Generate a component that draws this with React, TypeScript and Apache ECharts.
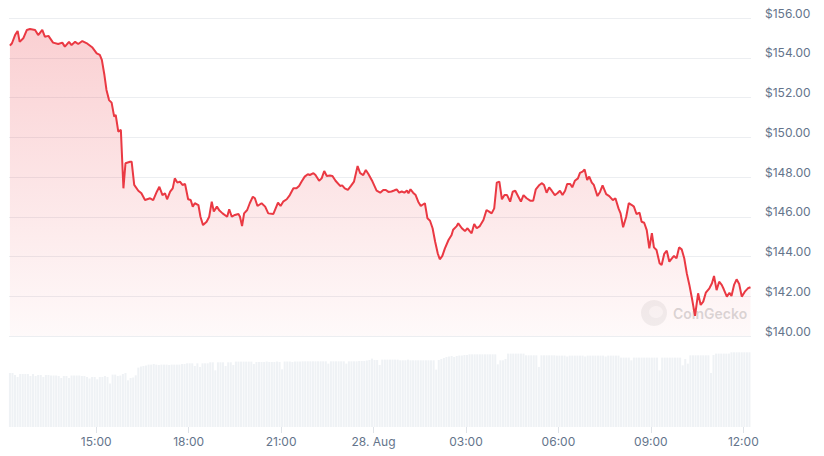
import React, { useEffect, useRef } from "react";
import * as echarts from "echarts";

// Start of the series: 27 Aug, 12:12 (hours since 27 Aug 00:00)
const START_HOUR = 12.2;

// Price series: minutes after start, and USD price
const lineMinutes = [
  0, 4, 10, 15, 19, 26, 33, 39, 49, 55, 63, 68, 75, 84, 94, 102, 107, 115, 120, 127,
  133, 141, 149, 160, 169, 175, 179, 184, 188, 193, 198, 203, 206, 211, 216, 221, 225, 234, 237, 242,
  250, 256, 263, 273, 279, 286, 291, 297, 302, 306, 312, 317, 321, 326, 331, 336, 341, 347, 352, 356,
  360, 367, 371, 376, 383, 388, 393, 397, 403, 408, 414, 421, 423, 427, 432, 438, 445, 448, 452, 456,
  462, 467, 473, 477, 482, 490, 497, 503, 513, 522, 527, 532, 539, 545, 552, 558, 563, 568, 574, 580,
  584, 591, 595, 602, 607, 612, 617, 623, 628, 634, 643, 647, 652, 658, 664, 670, 677, 682, 688, 693,
  698, 706, 714, 721, 727, 732, 737, 743, 748, 753, 758, 763, 768, 773, 776, 780, 785, 790, 795, 800,
  805, 808, 813, 818, 823, 828, 833, 837, 842, 847, 854, 860, 863, 870, 873, 880, 886, 891, 896, 899,
  904, 909, 915, 922, 928, 933, 938, 943, 948, 953, 958, 963, 968, 974, 979, 984, 990, 995, 1000, 1006,
  1013, 1019, 1024, 1031, 1036, 1040, 1045, 1050, 1055, 1061, 1066, 1071, 1076, 1081, 1085, 1091, 1095, 1100, 1106, 1110,
  1115, 1119, 1124, 1128, 1133, 1137, 1144, 1149, 1154, 1161, 1167, 1174, 1179, 1185, 1189, 1194, 1200, 1205, 1211, 1215,
  1220, 1226, 1230, 1235, 1240, 1245, 1250, 1254, 1259, 1265, 1269, 1274, 1279, 1284, 1289, 1293, 1298, 1303, 1308, 1313,
  1318, 1323, 1328, 1334, 1340, 1345, 1350, 1355, 1362, 1367, 1371, 1376, 1381, 1386, 1390, 1396, 1401, 1405, 1410, 1415,
  1420, 1425, 1431, 1437, 1442,
];

const linePrices = [
  154.61, 154.73, 155.14, 155.35, 154.8, 154.98, 155.4, 155.45, 155.4, 155.14, 155.4, 155.06, 155.1, 154.76, 154.69, 154.76, 154.56, 154.8, 154.64, 154.8,
  154.69, 154.84, 154.74, 154.53, 154.22, 154.14, 153.89, 153.13, 152.38, 151.87, 151.74, 151.04, 151.12, 150.28, 150.37, 147.43, 148.69, 148.77, 148.77, 147.6,
  147.31, 147.18, 146.84, 146.93, 146.84, 147.26, 147.51, 147.09, 147.18, 146.88, 147.26, 147.43, 147.93, 147.72, 147.77, 147.6, 147.65, 146.88, 146.84, 146.51,
  146.68, 146.59, 146.0, 145.58, 145.75, 146.0, 146.76, 146.26, 146.51, 146.31, 146.17, 146.04, 146.0, 146.38, 146.0, 146.09, 146.14, 146.0, 145.53, 146.17,
  146.34, 146.68, 147.01, 146.93, 146.54, 146.68, 146.51, 146.17, 146.14, 146.71, 146.54, 146.76, 146.88, 147.09, 147.43, 147.43, 147.55, 147.77, 148.02, 148.14,
  148.1, 148.19, 148.1, 147.81, 147.93, 148.3, 148.05, 148.07, 148.05, 147.81, 147.55, 147.58, 147.43, 147.35, 147.55, 147.77, 148.55, 148.19, 148.1, 148.35,
  148.15, 147.77, 147.31, 147.21, 147.35, 147.35, 147.25, 147.27, 147.32, 147.38, 147.21, 147.27, 147.21, 147.32, 147.18, 147.38, 147.21, 147.09, 146.76, 146.54,
  146.63, 146.68, 145.92, 145.8, 145.42, 144.74, 144.16, 143.86, 144.03, 144.41, 144.83, 145.08, 145.35, 145.53, 145.67, 145.42, 145.28, 145.42, 145.25, 145.17,
  145.64, 145.42, 145.53, 145.84, 146.34, 146.26, 146.17, 146.42, 147.72, 147.77, 146.88, 147.09, 147.09, 146.76, 147.26, 147.31, 147.01, 146.76, 147.09, 146.93,
  146.81, 146.81, 147.38, 147.6, 147.69, 147.6, 147.21, 147.48, 147.31, 147.09, 147.18, 147.31, 147.09, 147.31, 147.65, 147.65, 147.48, 147.81, 147.93, 148.21,
  148.27, 148.38, 147.85, 148.02, 147.72, 147.6, 147.04, 147.25, 147.58, 147.14, 147.04, 146.84, 146.93, 146.42, 146.17, 145.47, 146.0, 146.68, 146.59, 146.51,
  146.14, 146.2, 145.75, 145.7, 145.33, 144.41, 145.17, 144.46, 144.33, 143.66, 143.57, 144.13, 144.29, 143.74, 143.91, 144.03, 143.91, 144.46, 144.36, 143.91,
  143.15, 142.57, 141.9, 141.01, 142.15, 141.56, 141.73, 142.18, 142.4, 142.65, 143.02, 142.31, 142.73, 142.57, 142.35, 141.98, 142.18, 142.01, 142.57, 142.85,
  142.62, 141.98, 142.23, 142.4, 142.45,
];

// Volume, one bar every 5 minutes from the start (relative units)
const VOLUME_STEP_MIN = 5;
const volumes = [
  54, 54, 52, 50, 53, 53, 53, 53, 51, 53, 51, 52, 52, 50, 52, 52, 51.5, 51.5, 51.5, 51,
  49, 51, 51, 49, 51.5, 51.5, 51.5, 51.5, 51, 51, 50, 48.5, 50, 50, 47.7, 50, 50, 51, 50, 43.5,
  52.4, 52.4, 51, 51.5, 53, 54, 46.7, 49, 49.5, 51.7, 59.4, 60.5, 61, 61.5,
  62.4, 62.4, 63, 62.4, 62, 62.4, 62.4, 62.4, 62, 62.4, 62.4, 62.4, 62.4, 63, 63,
  63.7, 63.7, 63.7, 61, 63.7, 60, 63.7, 63.7, 63.7, 64.7, 64.7, 56.7,
  64.7, 64.7, 64.7, 61, 64.7, 64.7, 62,
  65.4, 65.4, 65.4, 65.4, 65.4, 65.4, 65.4, 63,
  65, 65, 65, 65, 65.5, 65, 65, 65, 65.5, 65, 57.7,
  65.5, 65.5, 65.5, 65, 65.5, 65.5, 65.5, 65.7, 65.7, 65.7, 65.7, 65.7, 65.7, 65.7, 65.7, 65.7, 65.7, 63.4,
  65.7, 65.7, 65.7, 65.7, 65.7, 65.7, 63.4, 65.7, 65.7, 65.7, 65.7, 66, 66, 66, 66.5, 67, 68.4, 67, 67, 62,
  67.4, 67.4, 67.4, 67.4, 67.4, 67.4, 67.4,
  66.7, 66.7, 66.7, 67.4, 66.7, 66.7, 66.7, 66.7, 66.7, 66.7, 66.7, 66.7, 66.7, 66.7, 57.4,
  67, 68, 69, 70, 70.5, 71, 70, 71, 71.5, 71.5, 72, 72,
  72.7, 72.7, 72.7, 72.7, 72.7, 72.7, 72.7, 72.7, 72.7, 72.7, 72.7, 62.7, 66.7, 66.7, 68,
  73.4, 73.4, 73.4, 73.4, 73.4, 73.4, 73.4, 71.7, 71.7, 71.7, 71.7, 71.7, 60, 71.7, 71.7, 71.7, 71.7, 71.7, 71.7,
  71.4, 71.4, 71.4, 71.4, 70.5, 71.4, 71.4, 71.4, 71.4, 71.4, 71.4, 70.5, 71.4, 71.4, 71.4, 71.4, 71.4, 71.4, 71.4, 70.5, 71.4, 71.4, 71.4, 71.4, 71.4,
  69.4, 69.4, 69.4, 69.4, 66.7, 69.4, 69.4, 69.4, 69.4, 69.4, 69.4, 69.4, 69.4, 69.4, 69.4, 56.7,
  69.4, 69.4, 69.4, 69.4, 69.4, 69.4, 69.4, 69.4, 61.7, 68, 63.4,
  71.7, 71.7, 71.7, 71.7, 71.7, 71.7, 71.7, 71.7, 54, 72,
  73.4, 73.4, 73.4, 73.4, 73.4, 73.4, 74.7, 74.7, 74.7, 74.7, 74.7, 74.7, 74.7, 74.7,
];

// Axis
const X_MIN = 12.17;
const X_MAX = 36.25;
const xTickHours = [15, 18, 21, 24, 27, 30, 33, 36];
const priceMin = 140;
const priceMax = 156;
const priceStep = 2;
const VOLUME_MAX = 82;

function hourLabel(h: number): string {
  if (Math.round(h) === 24) return "28. Aug";
  const hh = Math.round(h) % 24;
  return (hh < 10 ? "0" : "") + hh + ":00";
}

export default function App() {
  const ref = useRef<HTMLDivElement>(null);

  useEffect(() => {
    if (!ref.current) return;
    const chart = echarts.init(ref.current, null, { renderer: "svg" });

    const lineData = lineMinutes.map((m, i) => [START_HOUR + m / 60, linePrices[i]]);
    const volData = volumes.map((v, i) => [START_HOUR + (i * VOLUME_STEP_MIN) / 60, v]);

    const labelColor = "#64748b";
    const font = "Inter, 'Noto Sans', sans-serif";

    chart.setOption({
      animation: false,
      backgroundColor: "#ffffff",
      grid: [
        { left: 9, right: 73, top: 18, height: 318 },
        { left: 9, right: 73, top: 345, height: 82 },
      ],
      xAxis: [
        {
          type: "value",
          gridIndex: 0,
          min: X_MIN,
          max: X_MAX,
          show: false,
          splitLine: { show: false },
        },
        {
          type: "value",
          gridIndex: 1,
          min: X_MIN,
          max: X_MAX,
          axisLine: { show: false },
          splitLine: { show: false },
          axisTick: {
            show: true,
            customValues: xTickHours,
            length: 6,
            lineStyle: { color: "#dfe3e8" },
          },
          axisLabel: {
            customValues: xTickHours,
            formatter: (v: number) => hourLabel(v),
            color: labelColor,
            fontSize: 12,
            fontFamily: font,
            margin: 8,
          },
        },
      ],
      yAxis: [
        {
          type: "value",
          gridIndex: 0,
          position: "right",
          min: priceMin,
          max: priceMax,
          interval: priceStep,
          axisLine: { show: false },
          axisTick: { show: false },
          splitLine: { lineStyle: { color: "#eceef1", width: 1 } },
          axisLabel: {
            formatter: (v: number) => "$" + v.toFixed(2),
            color: labelColor,
            fontSize: 12,
            fontFamily: font,
            margin: 14,
            verticalAlign: "bottom",
            lineHeight: 10,
          },
        },
        {
          type: "value",
          gridIndex: 1,
          min: 0,
          max: VOLUME_MAX,
          show: false,
          splitLine: { show: false },
        },
      ],
      series: [
        {
          type: "bar",
          xAxisIndex: 1,
          yAxisIndex: 1,
          data: volData,
          barWidth: 2,
          itemStyle: { color: "#eff2f5" },
          silent: true,
        },
        {
          type: "line",
          xAxisIndex: 0,
          yAxisIndex: 0,
          data: lineData,
          showSymbol: false,
          symbol: "none",
          lineStyle: { color: "#ea3943", width: 2 },
          areaStyle: {
            origin: "start",
            color: new echarts.graphic.LinearGradient(0, 0, 0, 1, [
              { offset: 0, color: "rgba(234,57,67,0.34)" },
              { offset: 1, color: "rgba(234,57,67,0.04)" },
            ]),
          },
          z: 3,
        },
      ],
      graphic: [
        {
          type: "group",
          left: 641,
          top: 300,
          silent: true,
          children: [
            {
              type: "circle",
              shape: { cx: 13, cy: 13, r: 13 },
              style: { fill: "rgba(190,190,190,0.22)" },
            },
            {
              type: "ellipse",
              shape: { cx: 15, cy: 12, rx: 7, ry: 6 },
              style: { fill: "rgba(255,255,255,0.55)" },
            },
            {
              type: "text",
              x: 32,
              y: 13,
              style: {
                text: "CoinGecko",
                fill: "rgba(170,170,170,0.45)",
                font: "600 14px Inter, 'Noto Sans', sans-serif",
                verticalAlign: "middle",
              },
            },
          ],
        },
      ],
    });

    return () => {
      chart.dispose();
    };
  }, []);

  return (
    <div
      ref={ref}
      style={{ position: "fixed", left: 0, top: 0, width: 824, height: 456 }}
    />
  );
}
